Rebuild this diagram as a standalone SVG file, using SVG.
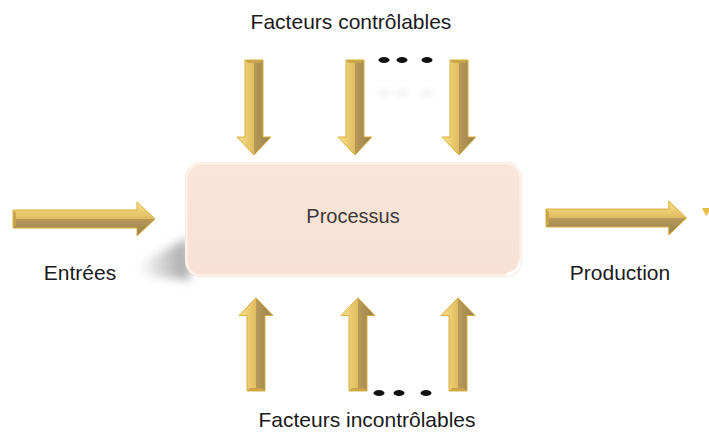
<svg xmlns="http://www.w3.org/2000/svg" width="709" height="433" viewBox="0 0 709 433">
  <style>
    .label { font-family: "Liberation Sans", Arial, sans-serif; font-size: 21px; fill: #1a1a1a; }
    .proc { font-family: "Liberation Sans", Arial, sans-serif; font-size: 20px; fill: #3a3a3a; }
    .light { fill: url(#goldLight); }
    .dark { fill: url(#goldDark); }
    .rim { fill: none; stroke: #D9AE3A; stroke-width: 1; stroke-linejoin: round; }
    .dot { fill: #111; }
  </style>
  <defs>
    <linearGradient id="goldLight" x1="0" y1="0" x2="0" y2="1">
      <stop offset="0" stop-color="#F8E290"/>
      <stop offset="1" stop-color="#E0BB5E"/>
    </linearGradient>
    <linearGradient id="goldDark" x1="0" y1="0" x2="0" y2="1">
      <stop offset="0" stop-color="#B89A58"/>
      <stop offset="1" stop-color="#98814E"/>
    </linearGradient>
    <linearGradient id="boxFill" x1="0" y1="0" x2="0" y2="1">
      <stop offset="0" stop-color="#FAE5DA"/>
      <stop offset="1" stop-color="#F8E1D4"/>
    </linearGradient>
    <linearGradient id="shadowFade" x1="1" y1="0" x2="0" y2="0">
      <stop offset="0" stop-color="#7a7a7a" stop-opacity="0.7"/>
      <stop offset="1" stop-color="#7a7a7a" stop-opacity="0"/>
    </linearGradient>
    <filter id="soft" x="-50%" y="-50%" width="200%" height="200%">
      <feGaussianBlur stdDeviation="5"/>
    </filter>
    <filter id="haze" x="-50%" y="-50%" width="200%" height="200%">
      <feGaussianBlur stdDeviation="3"/>
    </filter>
    <!-- bevelled gold arrow pointing right, length 142 -->
    <g id="arrowLong">
      <polygon class="light" points="0,-9 124,-9 124,-17 142,0 0,0"/>
      <polygon class="dark" points="0,0 142,0 124,17 124,9 0,9"/>
      <polygon points="0,-9 3,-6 3,6 0,9" fill="#C9A44E"/>
      <polygon class="rim" points="0,-9 124,-9 124,-17 142,0 124,17 124,9 0,9"/>
    </g>
    <!-- shorter variant for the vertical arrows -->
    <g id="arrowShort">
      <polygon class="light" points="0,-9 77,-9 77,-17 95,0 0,0"/>
      <polygon class="dark" points="0,0 95,0 77,17 77,9 0,9"/>
      <polygon points="0,-9 3,-6 3,6 0,9" fill="#C9A44E"/>
      <polygon class="rim" points="0,-9 77,-9 77,-17 95,0 77,17 77,9 0,9"/>
    </g>
  </defs>

  <!-- process box with its cast shadow -->
  <g id="processus">
    <path d="M138,264 L188,238 L190,280 L145,276 Z" fill="url(#shadowFade)" filter="url(#soft)"/>
    <rect x="185" y="162" width="337" height="115" rx="16" fill="url(#boxFill)"/>
    <rect x="186.5" y="163.5" width="334" height="112" rx="15" fill="none" stroke="#FFF4EE" stroke-width="2"/>
    <path d="M508,274 Q518,272 520,262" fill="none" stroke="#FFFFFF" stroke-width="3" stroke-linecap="round"/>
    <text class="proc" x="353" y="223" text-anchor="middle">Processus</text>
  </g>

  <g id="connectors">
    <!-- inputs and outputs -->
    <use href="#arrowLong" transform="translate(13,219)"/>
    <use href="#arrowLong" transform="translate(546,218) scale(0.99,1)"/>
    <polygon points="702,208 709,208 709,212 706,216" fill="#E6BE45"/>

    <!-- controllable factors (pointing down) -->
    <use href="#arrowShort" transform="translate(254,60) rotate(90) scale(1,-1)"/>
    <use href="#arrowShort" transform="translate(355,60) rotate(90) scale(1,-1)"/>
    <use href="#arrowShort" transform="translate(459,60) rotate(90) scale(1,-1)"/>

    <!-- uncontrollable factors (pointing up) -->
    <use href="#arrowShort" transform="translate(256,391) rotate(-90) scale(0.98,1)"/>
    <use href="#arrowShort" transform="translate(358,391) rotate(-90) scale(0.98,1)"/>
    <use href="#arrowShort" transform="translate(458,391) rotate(-90) scale(0.98,1)"/>
  </g>

  <!-- ellipsis marks -->
  <g id="dots-top">
    <ellipse class="dot" cx="384" cy="60" rx="5.5" ry="3"/>
    <ellipse class="dot" cx="402" cy="60" rx="5.5" ry="3"/>
    <ellipse class="dot" cx="427" cy="60" rx="5.5" ry="3"/>
    <g opacity="0.06" filter="url(#haze)">
      <ellipse cx="384" cy="93" rx="7" ry="4" fill="#333"/>
      <ellipse cx="402" cy="93" rx="7" ry="4" fill="#333"/>
      <ellipse cx="427" cy="93" rx="7" ry="4" fill="#333"/>
    </g>
  </g>
  <g id="dots-bottom">
    <ellipse class="dot" cx="379" cy="393" rx="5.5" ry="3"/>
    <ellipse class="dot" cx="399" cy="393" rx="5.5" ry="3"/>
    <ellipse class="dot" cx="426" cy="393" rx="5.5" ry="3"/>
  </g>

  <!-- labels -->
  <g id="label-controlables"><text class="label" x="351" y="29" text-anchor="middle">Facteurs contrôlables</text></g>
  <g id="label-entrees"><text class="label" x="80" y="280" text-anchor="middle">Entrées</text></g>
  <g id="label-production"><text class="label" x="620" y="280" text-anchor="middle">Production</text></g>
  <g id="label-incontrolables"><text class="label" x="367" y="427" text-anchor="middle">Facteurs incontrôlables</text></g>
</svg>
